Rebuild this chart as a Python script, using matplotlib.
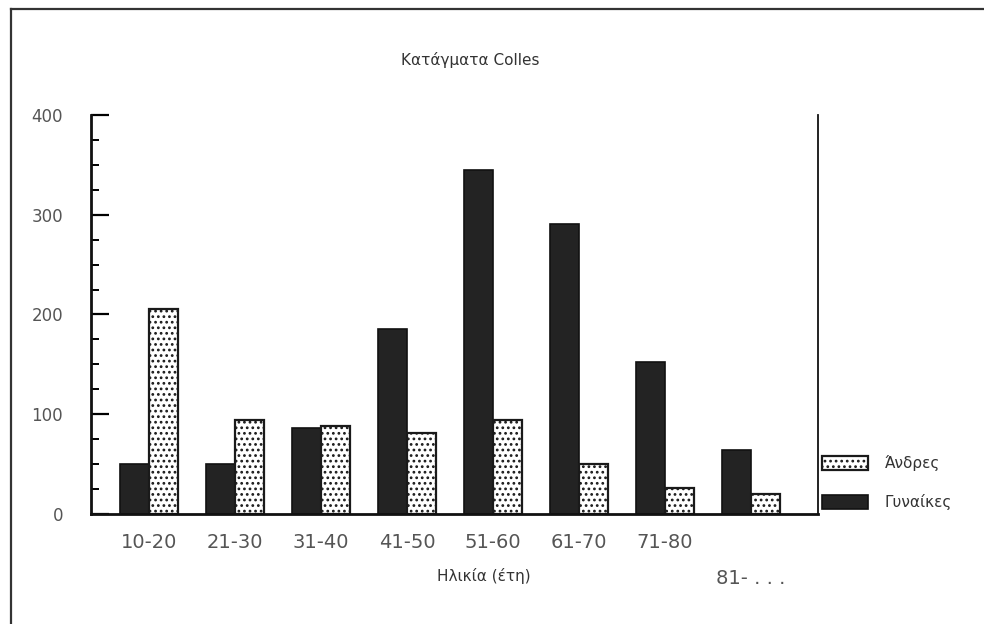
import matplotlib
matplotlib.use("Agg")
from matplotlib import pyplot as plt
from matplotlib.lines import Line2D
from matplotlib.ticker import MultipleLocator
import numpy as np

plt.rcParams['font.family'] = ['DejaVu Sans']
plt.rcParams['hatch.linewidth'] = 1.2

# ομάδες ηλικιών και αριθμός καταγμάτων
ilikies = ["10-20", "21-30", "31-40", "41-50", "51-60", "61-70", "71-80", "81- . . ."]
gynaikes = [50, 50, 86, 185, 345, 291, 152, 64]
andres = [206, 94, 88, 81, 94, 50, 26, 20]

fig = plt.figure(figsize=(9.84, 6.24), dpi=100)
ax = fig.add_axes([0.0925, 0.1763, 0.7388, 0.6394])

x = np.arange(len(ilikies))
w = 0.34
b1 = ax.bar(x - w / 2, gynaikes, w, color="#232323", edgecolor="#111111", linewidth=1.2)
b2 = ax.bar(x + w / 2, andres, w, color="white", edgecolor="#1a1a1a",
            hatch="...", linewidth=1.6)

ax.set_xlim(-0.674, 7.78)
ax.set_ylim(0, 400)

# άξονες: αριστερά και δεξιά, χωρίς πάνω
ax.spines['top'].set_visible(False)
ax.spines['left'].set_linewidth(2.0)
ax.spines['bottom'].set_linewidth(2.0)
ax.spines['right'].set_linewidth(1.3)
for s in ax.spines.values():
    s.set_color("#111111")

ax.yaxis.set_major_locator(MultipleLocator(100))
ax.yaxis.set_minor_locator(MultipleLocator(25))
ax.tick_params(axis='y', which='major', direction='in', length=13, width=1.6,
               labelsize=12, labelcolor="#555555", pad=20)
ax.tick_params(axis='y', which='minor', direction='in', length=6, width=1.4)

ax.set_xticks(x)
ax.set_xticklabels(ilikies)
ax.tick_params(axis='x', length=0, labelsize=14, labelcolor="#555555", pad=14)
# η τελευταία ετικέτα πιο χαμηλά
last = ax.get_xticklabels()[-1]
last.set_y(-0.09)

ax.set_title("Κατάγματα Colles", fontsize=11, color="#333333", pad=36, x=0.521)
ax.set_xlabel("Ηλικία (έτη)", fontsize=11, color="#333333")
ax.xaxis.set_label_coords(0.54, -0.135)

leg = ax.legend([b2, b1], ["Άνδρες", "Γυναίκες"], loc='upper left',
                bbox_to_anchor=(1.006, 0.147), frameon=False, fontsize=11,
                handlelength=3.0, handleheight=1.0, labelspacing=1.5,
                handletextpad=1.1, borderpad=0, borderaxespad=0)
for t in leg.get_texts():
    t.set_color("#333333")

# πλαίσιο γύρω από τη σελίδα
fig.add_artist(Line2D([11 / 984, 1], [1 - 9 / 624, 1 - 9 / 624], color="#333333", lw=1.6))
fig.add_artist(Line2D([11 / 984, 11 / 984], [0, 1 - 9 / 624], color="#333333", lw=1.6))

fig.savefig("out.png", dpi=100, facecolor="white")
